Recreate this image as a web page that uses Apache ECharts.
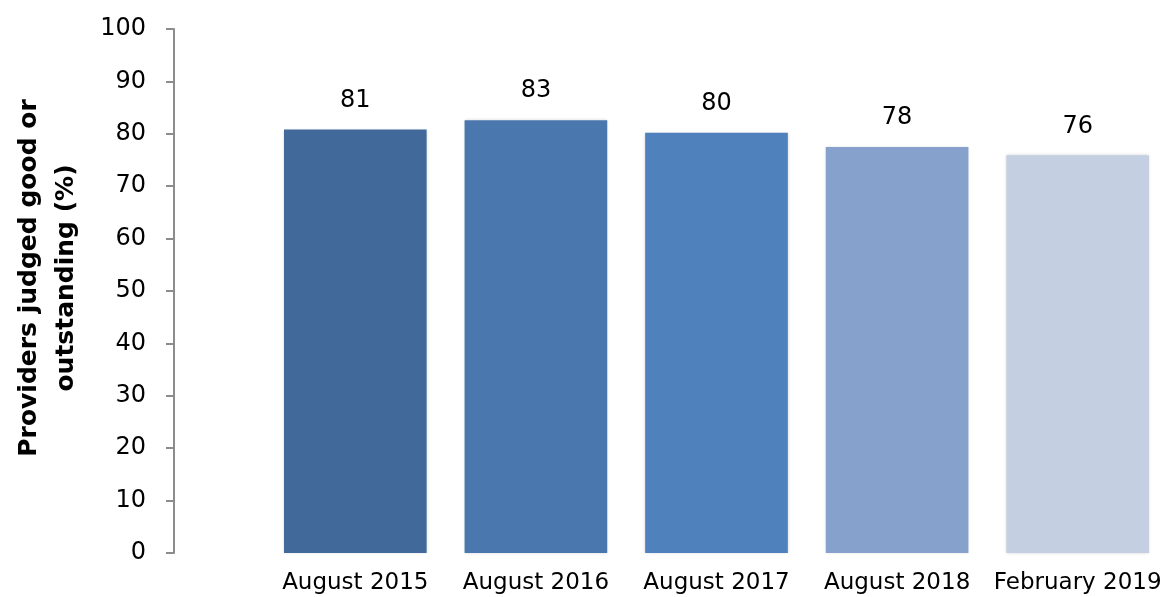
<!DOCTYPE html>
<html>
<head>
<meta charset="utf-8">
<script src="https://cdn.jsdelivr.net/npm/echarts@6/dist/echarts.min.js"></script>
<style>
html,body{margin:0;padding:0;background:#fff;}
#chart{width:1168px;height:597px;}
</style>
</head>
<body>
<div id="chart"></div>
<script>
const categories = ['August 2015', 'August 2016', 'August 2017', 'August 2018', 'February 2019'];
const values = [80.8, 82.6, 80.2, 77.5, 75.9];
const barColors = ['#416a9b', '#4a77ae', '#4f81bd', '#86a1cb', '#c5cfe2'];
const yTicks = { min: 0, max: 100, interval: 10 };
const yTitle = 'Providers judged good or\noutstanding (%)';

const chart = echarts.init(document.getElementById('chart'));
const FONT = 'DejaVu Sans';
chart.setOption({
  animation: false,
  grid: { left: 265, right: 0, top: 29, bottom: 44, containLabel: false, outerBoundsMode: 'none' },
  xAxis: {
    type: 'category',
    data: categories,
    axisLine: { show: false },
    axisTick: { show: false },
    axisLabel: { color: '#000', fontFamily: FONT, fontSize: 23, margin: 19, interval: 0 }
  },
  yAxis: {
    type: 'value',
    min: yTicks.min, max: yTicks.max, interval: yTicks.interval,
    offset: 91,
    splitLine: { show: false },
    axisLine: { show: true, lineStyle: { color: '#8c8c8c', width: 2 } },
    axisTick: { show: true, inside: false, length: 8, lineStyle: { color: '#8c8c8c', width: 2 } },
    axisLabel: { color: '#000', fontFamily: FONT, fontSize: 24, margin: 28 },
    name: yTitle,
    nameLocation: 'middle',
    nameRotate: 90,
    nameGap: 126,
    nameMoveOverlap: false,
    nameTextStyle: { color: '#000', fontFamily: FONT, fontSize: 25, fontWeight: 'bold', lineHeight: 37, align: 'center', verticalAlign: 'middle', padding: [0, 0, 0, 26] }
  },
  series: [{
    type: 'bar',
    data: values.map((v, i) => ({ value: v, itemStyle: { color: barColors[i] } })),
    barCategoryGap: '21%',
    itemStyle: { shadowColor: 'rgba(0,0,0,0.18)', shadowBlur: 3 },
    label: {
      show: true, position: 'top', distance: 17,
      color: '#000', fontFamily: FONT, fontSize: 24,
      formatter: p => Math.round(p.value)
    }
  }]
});
</script>
</body>
</html>
